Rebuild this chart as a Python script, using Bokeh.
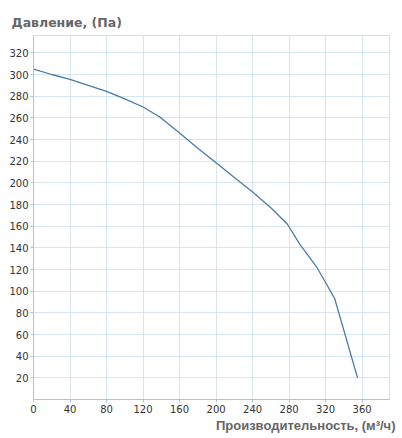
from bokeh.plotting import figure
from bokeh.models import Title, FixedTicker
from bokeh.embed import file_html
from bokeh.resources import INLINE

# data
flow = [0, 20, 40, 60, 80, 100, 120, 138, 160, 180, 200, 220, 240, 260, 278, 292, 300, 310, 320, 330, 355]
pressure = [305, 300, 295.5, 290, 284.5, 277.5, 270, 261, 246, 232, 218.5, 205, 191.5, 177, 162, 143, 134, 122.5, 108, 93, 20]
x_ticks = [0, 40, 80, 120, 160, 200, 240, 280, 320, 360]
y_ticks = [20, 40, 60, 80, 100, 120, 140, 160, 180, 200, 220, 240, 260, 280, 300, 320]
y_title = "Давление, (Па)"
x_title = "Производительность, (м³/ч)"

p = figure(width=402, height=438, x_range=(0, 390), y_range=(0, 336),
           output_backend="svg", toolbar_location=None,
           min_border_left=33, min_border_right=13, min_border_top=35, min_border_bottom=39)

p.line(flow, pressure, line_color="#4a7aa9", line_width=1.3)

for ax in (p.xaxis[0], p.yaxis[0]):
    ax.axis_line_color = "#a9c3da"
    ax.major_tick_line_color = "#a9c3da"
    ax.minor_tick_line_color = None
    ax.major_tick_in = 0
    ax.major_tick_out = 3
    ax.major_label_text_font = "DejaVu Sans"
    ax.major_label_text_font_size = "10px"
    ax.major_label_text_color = "#333333"
    ax.major_label_standoff = 2
p.xaxis[0].ticker = FixedTicker(ticks=x_ticks)
p.yaxis[0].ticker = FixedTicker(ticks=y_ticks)

p.grid.grid_line_color = "#d6e5ef"
p.xgrid.ticker = FixedTicker(ticks=x_ticks)
p.ygrid.ticker = FixedTicker(ticks=y_ticks)
p.outline_line_color = "#cfe0ec"
p.outline_line_alpha = 1.0
p.background_fill_color = "white"

t_top = Title(text=y_title, align="left", offset=-22, text_font="DejaVu Sans",
              text_font_size="12.5px", text_font_style="bold", text_color="#666666", standoff=11)
p.add_layout(t_top, "above")
t_bot = Title(text=x_title, align="right", offset=-6, text_font="Liberation Sans",
              text_font_size="13px", text_font_style="bold", text_color="#666666", standoff=0)
p.add_layout(t_bot, "below")

open("out.html", "w").write(file_html(p, INLINE))
